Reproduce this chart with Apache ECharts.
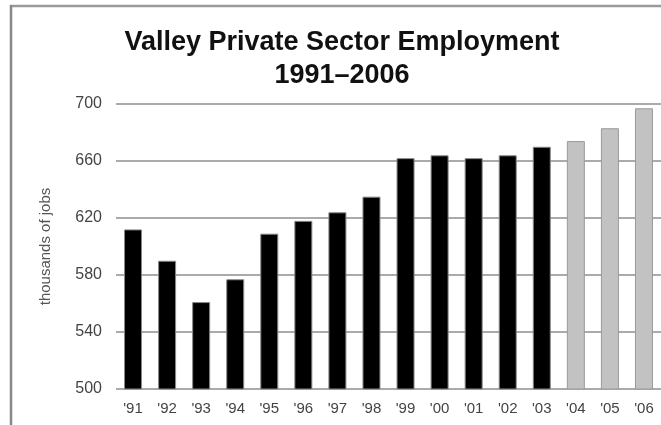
<!DOCTYPE html>
<html>
<head>
<meta charset="utf-8">
<script src="https://cdn.jsdelivr.net/npm/echarts@6/dist/echarts.min.js"></script>
<style>
html,body{margin:0;padding:0;background:#fff;}
#chart{width:661px;height:425px;}
</style>
</head>
<body>
<div id="chart"></div>
<script>
const titleLines = ['Valley Private Sector Employment', '1991\u20132006'];
const categories = ["'91","'92","'93","'94","'95","'96","'97","'98","'99","'00","'01","'02","'03","'04","'05","'06"];
const actualValues = [612, 590, 561, 577, 609, 618, 624, 635, 662, 664, 662, 664, 670];
const projectedValues = [674, 683, 697];
const yTicks = [500, 540, 580, 620, 660, 700];

const data = actualValues.map(v => ({value: v, itemStyle: {color: '#000', borderColor: '#888', borderWidth: 1}}))
  .concat(projectedValues.map(v => ({value: v, itemStyle: {color: '#c2c2c2', borderColor: '#9a9a9a', borderWidth: 1}})));

const titleFont = 'bold 27px "Liberation Sans", Arial, sans-serif';

const chart = echarts.init(document.getElementById('chart'));
chart.setOption({
  animation: false,
  backgroundColor: '#fff',
  graphic: [
    {type: 'line', shape: {x1: 10, y1: 6, x2: 661, y2: 6}, style: {stroke: '#9a9a9a', lineWidth: 2.5}},
    {type: 'line', shape: {x1: 11, y1: 5, x2: 11, y2: 425}, style: {stroke: '#888', lineWidth: 2.5}},
    {type: 'text', x: 342, y: 43, style: {text: titleLines[0], font: titleFont, fill: '#111', textAlign: 'center', textVerticalAlign: 'middle'}},
    {type: 'text', x: 342, y: 76, style: {text: titleLines[1], font: titleFont, fill: '#111', textAlign: 'center', textVerticalAlign: 'middle'}}
  ],
  grid: {left: 116, right: -2, top: 104, bottom: 36},
  xAxis: {
    type: 'category',
    data: categories,
    axisLine: {show: false},
    axisTick: {show: false},
    axisLabel: {margin: 12, fontFamily: 'Liberation Sans', fontSize: 15, color: '#444'}
  },
  yAxis: {
    type: 'value',
    min: yTicks[0],
    max: yTicks[yTicks.length - 1],
    interval: 40,
    name: 'thousands of jobs',
    nameLocation: 'middle',
    nameGap: 63,
    nameTextStyle: {fontFamily: 'Liberation Sans', fontSize: 15, color: '#555'},
    axisLine: {show: false},
    axisTick: {show: false},
    axisLabel: {margin: 14, fontFamily: 'Liberation Sans', fontSize: 16, color: '#444'},
    splitLine: {lineStyle: {color: '#aaa', width: 2}}
  },
  series: [{
    type: 'bar',
    data: data,
    barWidth: 18
  }]
});
</script>
</body>
</html>
